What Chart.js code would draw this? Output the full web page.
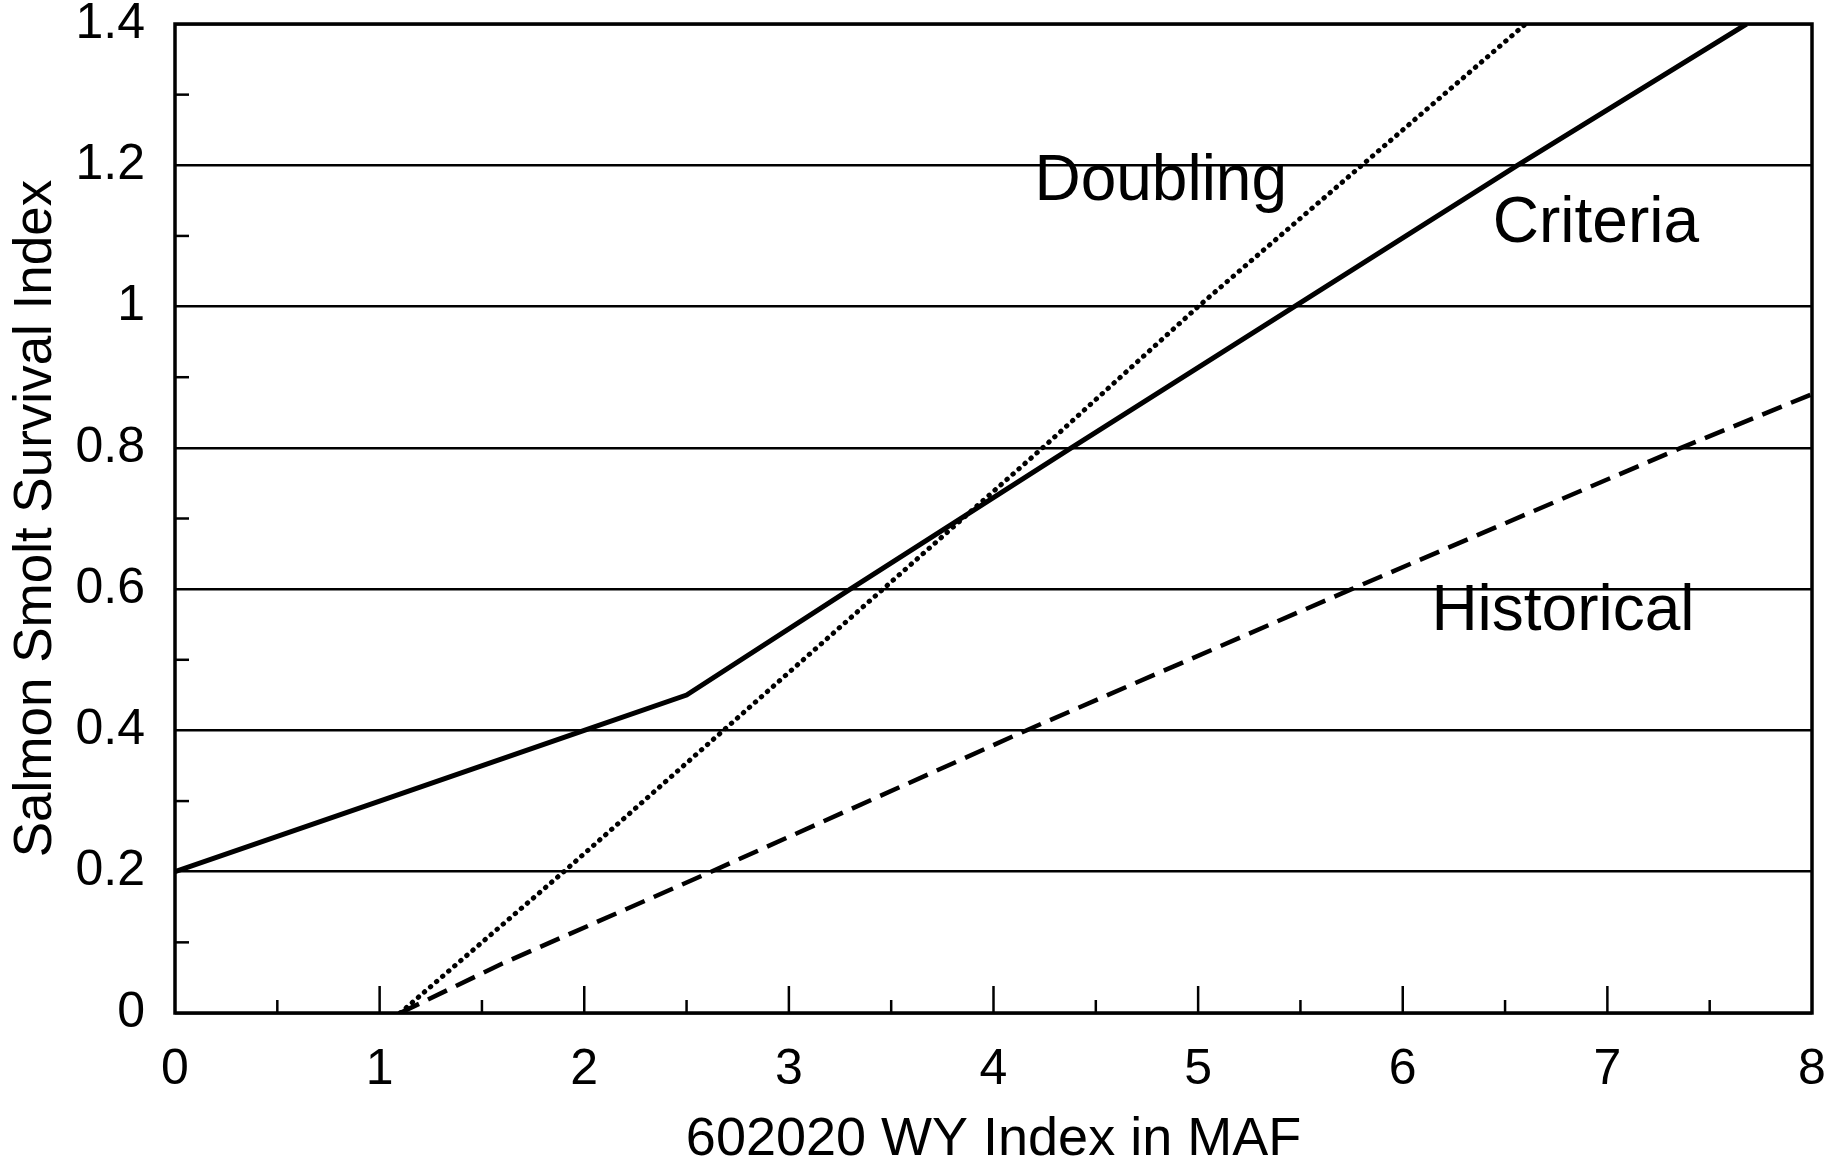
<!DOCTYPE html>
<html>
<head>
<meta charset="utf-8">
<title>Salmon Smolt Survival Index</title>
<script src="https://cdn.jsdelivr.net/npm/chart.js@4.4.1/dist/chart.umd.min.js"></script>
<style>
  html, body { margin: 0; padding: 0; background: #fff; }
  #wrap { width: 1845px; height: 1162px; position: relative; }
</style>
</head>
<body>
<div id="wrap"><canvas id="smoltChart"></canvas></div>
<script>
// valores (x = 602020 WY Index, y = survival index)
const criteriaX = [0, 1, 2, 2.5, 3.3, 4.38, 5.47, 6.56, 7.68];
const criteriaY = [0.2, 0.3, 0.4, 0.45, 0.6, 0.8, 1.0, 1.2, 1.4];

const doublingX = [1.1, 1.9, 2.68, 3.46, 4.24, 5.0, 5.8, 6.6];
const doublingY = [0, 0.2, 0.4, 0.6, 0.8, 1.0, 1.2, 1.4];

const historicalX = [1.1, 1.6, 2.62, 4.16, 5.75, 7.36, 8];
const historicalY = [0, 0.07, 0.2, 0.4, 0.6, 0.8, 0.876];

// ticks com rótulo
const xTicks = [0, 1, 2, 3, 4, 5, 6, 7, 8];
const yTicks = [0, 0.2, 0.4, 0.6, 0.8, 1, 1.2, 1.4];

// nomes escritos dentro do gráfico
const seriesNames = ['Criteria', 'Doubling', 'Historical'];

document.addEventListener("DOMContentLoaded", () => {

    const toPoints = (xs, ys) => xs.map((x, i) => ({ x: x, y: ys[i] }));
    const isLabeledY = v => yTicks.some(t => Math.abs(t - v) < 1e-6);

    // onde cada nome fica (em unidades dos eixos)
    const nameSpots = {
        Doubling:   { x: 4.2,  y: 1.151 },
        Criteria:   { x: 6.44, y: 1.091 },
        Historical: { x: 6.14, y: 0.542 }
    };

    // moldura, marcas dos eixos e nomes das curvas
    const frameAndNames = {
        id: 'frameAndNames',
        afterDatasetsDraw(chart) {
            const { ctx, chartArea: a, scales: { x, y } } = chart;
            ctx.save();
            ctx.strokeStyle = '#000';
            ctx.lineWidth = 2.5;

            // marcas no eixo x (inteiros maiores, meios menores)
            for (let v = 0.5; v < 8; v += 0.5) {
                const px = x.getPixelForValue(v);
                const len = Number.isInteger(v) ? 27 : 13;
                ctx.beginPath();
                ctx.moveTo(px, a.bottom);
                ctx.lineTo(px, a.bottom - len);
                ctx.stroke();
            }
            // marcas menores no eixo y
            for (let i = 1; i < 14; i += 2) {
                const py = y.getPixelForValue(i / 10);
                ctx.beginPath();
                ctx.moveTo(a.left, py);
                ctx.lineTo(a.left + 14, py);
                ctx.stroke();
            }

            ctx.lineWidth = 3.5;
            ctx.strokeRect(a.left, a.top, a.right - a.left, a.bottom - a.top);

            ctx.fillStyle = '#000';
            ctx.font = '64px "Liberation Sans", Arial, sans-serif';
            ctx.textAlign = 'left';
            ctx.textBaseline = 'alphabetic';
            seriesNames.forEach(name => {
                const spot = nameSpots[name];
                ctx.fillText(name, x.getPixelForValue(spot.x), y.getPixelForValue(spot.y));
            });
            ctx.restore();
        }
    };

    Chart.defaults.font.family = '"Liberation Sans", Arial, sans-serif';
    Chart.defaults.color = '#000';

    const ctx = document.getElementById('smoltChart').getContext('2d');

    new Chart(ctx, {
        type: 'line',
        data: {
            datasets: [
                {
                    label: seriesNames[0],
                    data: toPoints(criteriaX, criteriaY),
                    borderColor: '#000',
                    borderWidth: 5,
                    pointRadius: 0,
                    tension: 0
                },
                {
                    label: seriesNames[1],
                    data: toPoints(doublingX, doublingY),
                    borderColor: '#000',
                    borderWidth: 5,
                    borderDash: [0.5, 7.5],
                    borderCapStyle: 'round',
                    pointRadius: 0,
                    tension: 0
                },
                {
                    label: seriesNames[2],
                    data: toPoints(historicalX, historicalY),
                    borderColor: '#000',
                    borderWidth: 4.5,
                    borderDash: [21, 10],
                    pointRadius: 0,
                    tension: 0
                }
            ]
        },
        options: {
            responsive: true,
            maintainAspectRatio: false,
            animation: false,
            layout: {
                padding: { left: 0, top: 24, right: 33, bottom: 0 }
            },
            plugins: {
                legend: { display: false },
                tooltip: { enabled: false }
            },
            scales: {
                x: {
                    type: 'linear',
                    min: 0,
                    max: 8,
                    afterBuildTicks: scale => {
                        scale.ticks = xTicks.map(v => ({ value: v }));
                    },
                    ticks: {
                        padding: 19,
                        maxRotation: 0,
                        font: { size: 50 },
                        callback: v => String(v)
                    },
                    grid: { display: false },
                    border: { display: false },
                    title: {
                        display: true,
                        text: '602020 WY Index in MAF',
                        font: { size: 54, lineHeight: 0.8 },
                        padding: 0
                    },
                    afterFit: scale => {
                        scale.height = 149;
                    }
                },
                y: {
                    min: 0,
                    max: 1.4,
                    ticks: {
                        stepSize: 0.1,
                        padding: 30,
                        font: { size: 50 },
                        callback: v => isLabeledY(v) ? String(Number(v.toFixed(1))) : ''
                    },
                    grid: {
                        drawTicks: false,
                        lineWidth: 2.5,
                        color: c => (c.tick && isLabeledY(c.tick.value)) ? '#000' : 'rgba(0,0,0,0)'
                    },
                    border: { display: false },
                    title: {
                        display: true,
                        text: 'Salmon Smolt Survival Index',
                        font: { size: 53, lineHeight: 1.2 },
                        padding: { top: 5, bottom: 0 }
                    },
                    afterFit: scale => {
                        scale.width = 175;
                        scale.paddingTop = 0;
                        scale.paddingBottom = 0;
                    }
                }
            }
        },
        plugins: [frameAndNames]
    });
});
</script>
</body>
</html>
